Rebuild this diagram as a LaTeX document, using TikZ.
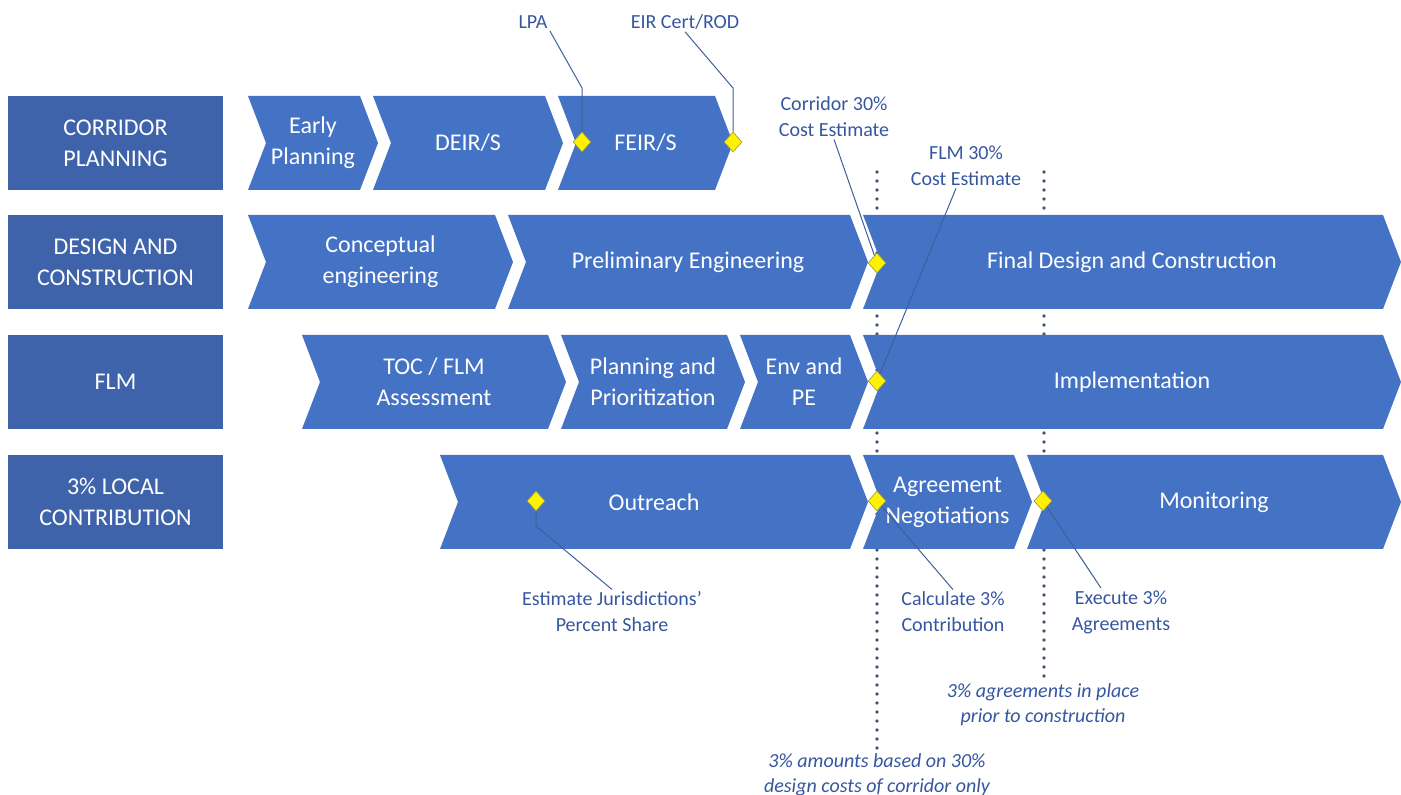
\documentclass[tikz,border=0pt]{standalone}
\usepackage{fontspec}
\setmainfont{Carlito}
\usetikzlibrary{positioning}
\usetikzlibrary{shapes.geometric}
\definecolor{chevblue}{HTML}{4472C4}
\definecolor{laneblue}{HTML}{3F63AB}
\definecolor{noteblue}{HTML}{3556A0}
\definecolor{leadblue}{HTML}{3F5F9A}
\definecolor{gategray}{HTML}{44546A}
% name, left x, right x, mid y, text
\newcommand{\chevron}[5]{%
  \fill[chevblue] (#2,#4-47) -- (#3,#4-47) -- (#3+18,#4) -- (#3,#4+47) -- (#2,#4+47) -- (#2+18,#4) -- cycle;
  \node[phase] (#1) at ({(#2+#3+18)/2},#4) {#5};
}

\begin{document}
\begin{tikzpicture}[x=0.5pt,y=-0.5pt
  ,lane/.style={fill=laneblue,text=white,minimum width=107.5pt,minimum height=47pt,inner sep=0pt
               ,align=center,font=\fontsize{12}{15.5}\selectfont}
  ,phase/.style={text=white,align=center,inner sep=0pt,font=\fontsize{12}{15.5}\selectfont}
  ,milestone/.style={diamond,fill=yellow,draw=yellow!55!black,line width=0.3pt,inner sep=0pt
                    ,minimum width=9pt,minimum height=10pt}
  ,note/.style={text=noteblue,align=center,inner sep=1pt,font=\fontsize{10}{13}\selectfont}
  ,remark/.style={note,font=\fontsize{10}{12.5}\selectfont\itshape}
  ,leader/.style={draw=leadblue,line width=0.5pt}
  ,gate/.style={draw=gategray,line width=1.9pt,line cap=round,dash pattern=on 0pt off 4.5pt}
  ]
\useasboundingbox (0,0) rectangle (1401,795);

% gates behind the phases
\coordinate (gateAtop) at (877,172);
\coordinate (gateAbot) at (877,752);
\coordinate (gateBtop) at (1044,172);
\coordinate (gateBbot) at (1044,682);
\draw[gate] (gateAtop) -- (gateAbot);
\draw[gate] (gateBtop) -- (gateBbot);

% lanes
\node[lane] (corridor) at (115.5,143) {CORRIDOR\\PLANNING};
\node[lane] (design) at (115.5,262) {DESIGN AND\\CONSTRUCTION};
\node[lane] (flm) at (115.5,382) {FLM};
\node[lane] (local) at (115.5,502) {3\% LOCAL\\CONTRIBUTION};

% phases
\chevron{early}{248}{360}{143}{Early\\Planning}
\chevron{deir}{373}{545}{143}{DEIR/S}
\chevron{feir}{558}{715}{143}{FEIR/S}
\chevron{concept}{248}{495}{262}{Conceptual\\engineering}
\chevron{prelim}{508}{850}{262}{Preliminary Engineering}
\chevron{final}{863}{1383}{262}{Final Design and Construction}
\chevron{toc}{302}{548}{382}{TOC / FLM\\Assessment}
\chevron{prio}{561}{727}{382}{Planning and\\Prioritization}
\chevron{env}{740}{850}{382}{Env and\\PE}
\chevron{impl}{863}{1383}{382}{Implementation}
\chevron{outreach}{440}{850}{502}{Outreach}
\chevron{agree}{863}{1014}{502}{Agreement\\Negotiations}
\chevron{monitor}{1027}{1383}{502}{Monitoring}

% milestones
\node[milestone] (mLPA) at (582,142) {};
\node[milestone] (mEIR) at (733,142) {};
\node[milestone] (mCorridor) at (877,263) {};
\node[milestone] (mFLM) at (877,381) {};
\node[milestone] (mShare) at (536,501) {};
\node[milestone] (mCalc) at (877,501) {};
\node[milestone] (mExec) at (1043,501) {};

% notes
\node[note] (nLPA) at (533,22) {LPA};
\node[note] (nEIR) at (685,22) {EIR Cert/ROD};
\node[note] (nCorridor) at (834,117) {Corridor 30\%\\Cost Estimate};
\node[note] (nFLM) at (966,166) {FLM 30\%\\Cost Estimate};
\node[note] (nShare) at (612,612) {Estimate Jurisdictions'\\Percent Share};
\node[note] (nCalc) at (953,612) {Calculate 3\%\\Contribution};
\node[note] (nExec) at (1121,612) {Execute 3\%\\Agreements};
\node[remark] (rPlace) at (1043,705) {3\% agreements in place\\prior to construction};
\node[remark] (rAmount) at (877,775) {3\% amounts based on 30\%\\design costs of corridor only};

% leaders
\draw[leader] (mLPA.north) -- (582,88) -- (nLPA.south east);
\draw[leader] (mEIR.north) -- (733,88) -- (nEIR.south);
\draw[leader] (mCorridor) -- (nCorridor.south);
\draw[leader] (mFLM) -- ([xshift=-5pt]nFLM.south);
\draw[leader] (mShare.south) -- (536,526) -- (nShare.north);
\draw[leader] (mCalc) -- (nCalc.north);
\draw[leader] (mExec) -- ([xshift=-10pt]nExec.north);
\end{tikzpicture}
\end{document}
